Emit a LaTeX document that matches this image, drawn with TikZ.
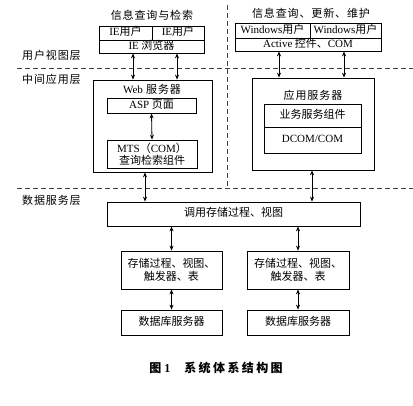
\documentclass[tikz,border=0pt]{standalone}
\usepackage{fontspec}
\setmainfont{Liberation Serif}
\newfontfamily\cjk{Noto Sans CJK SC}
\newfontfamily\lblfont[LetterSpace=8]{Noto Sans CJK SC}
\newfontfamily\capfont[LetterSpace=20]{Noto Sans CJK SC}
\usetikzlibrary{arrows.meta}
\newcommand\lat[1]{{\rmfamily #1}}
\tikzset{
  box/.style={draw, line width=0.8pt, inner sep=0pt, align=center,
    font=\cjk\fontsize{11}{14}\selectfont},
  cell/.style={box, text height=8pt, text depth=2pt},
  label/.style={inner sep=0pt, font=\lblfont\fontsize{11}{14}\selectfont},
  link/.style={line width=0.8pt, {Stealth[length=5pt,width=4pt]}-{Stealth[length=5pt,width=4pt]}},
  layer/.style={line width=0.8pt, dash pattern=on 5pt off 3pt, black!75}
}

\begin{document}
\begin{tikzpicture}[x=1pt, y=-1pt]
  \useasboundingbox (0,0) rectangle (413,406);
  % Layer lines.
  \draw[layer] (17,68) -- (413,68);
  \draw[layer] (17,188) -- (413,188);
  \draw[layer] (227,5) -- (227,188);
  % Layer labels.
  \node[label, anchor=west] (uview) at (22,55) {用户视图层};
  \node[label, anchor=west] (mid) at (22,79) {中间应用层};
  \node[label, anchor=west] (dserv) at (22,200) {数据服务层};
  % User view, left.
  \node[label] (query) at (152,15) {信息查询与检索};
  \node[cell, minimum width=53pt, minimum height=14pt] (ie1) at (125.5,33) {\lat{IE}用户};
  \node[cell, minimum width=52pt, minimum height=14pt] (ie2) at (178,33) {\lat{IE}用户};
  \node[cell, minimum width=105pt, minimum height=13pt] (browser) at (151.5,46.5) {\lat{IE} 浏览器};
  % User view, right.
  \node[label] (update) at (311,13) {信息查询、更新、维护};
  \node[cell, minimum width=75pt, minimum height=15pt] (win1) at (272.5,30.5) {\lat{Windows}用户};
  \node[cell, minimum width=71pt, minimum height=15pt] (win2) at (345.5,30.5) {\lat{Windows}用户};
  \node[cell, minimum width=146pt, minimum height=13pt] (active) at (308,44.5) {\lat{Active} 控件、\lat{COM}};
  % Middle layer, web server.
  \node[box, minimum width=119pt, minimum height=92pt] (web) at (152.5,126) {};
  \node[label] (weblbl) at (152,89) {\lat{Web} 服务器};
  \node[cell, minimum width=89pt, minimum height=15pt] (asp) at (151.5,105.5) {\lat{ASP} 页面};
  \node[box, minimum width=90pt, minimum height=28pt] (mts) at (152,154) {\lat{MTS}（\lat{COM}）\\[-2pt]查询检索组件};
  % Middle layer, application server.
  \node[box, minimum width=122pt, minimum height=92pt] (app) at (313,124) {};
  \node[label] (applbl) at (313,95) {应用服务器};
  \node[cell, minimum width=97pt, minimum height=23pt] (comp) at (312.5,115.5) {业务服务组件};
  \node[cell, minimum width=97pt, minimum height=26pt] (dcom) at (312.5,140) {\lat{DCOM/COM}};
  % Data layer.
  \node[cell, minimum width=253pt, minimum height=24pt] (call) at (233.5,214) {调用存储过程、视图};
  \node[box, minimum width=101pt, minimum height=38pt] (store1) at (171.5,270) {存储过程、视图、\\[-1pt]触发器、表};
  \node[box, minimum width=102pt, minimum height=38pt] (store2) at (298,270) {存储过程、视图、\\[-1pt]触发器、表};
  \node[cell, minimum width=101pt, minimum height=25pt] (db1) at (171.5,322.5) {数据库服务器};
  \node[cell, minimum width=102pt, minimum height=25pt] (db2) at (298,322.5) {数据库服务器};
  % Links.
  \draw[link] (browser.south -| 133,0) -- (web.north -| 133,0);
  \draw[link] (browser.south -| 177,0) -- (web.north -| 177,0);
  \draw[link] (active.south -| 279,0) -- (app.north -| 279,0);
  \draw[link] (active.south -| 344,0) -- (app.north -| 344,0);
  \draw[link] (asp.south) -- (mts.north);
  \draw[link] (web.south -| 145,0) -- (call.north -| 145,0);
  \draw[link] (app.south -| 312,0) -- (call.north -| 312,0);
  \draw[link] (call.south -| store1) -- (store1.north);
  \draw[link] (call.south -| store2) -- (store2.north);
  \draw[link] (store1.south) -- (db1.north);
  \draw[link] (store2.south) -- (db2.north);
  % Caption.
  \node[inner sep=0pt, font=\bfseries\fontsize{12}{14}\selectfont] (cap) at (216,368)
    {{\cjk 图}~1\hspace{14pt}{\capfont 系统体系结构图}};
\end{tikzpicture}
\end{document}
